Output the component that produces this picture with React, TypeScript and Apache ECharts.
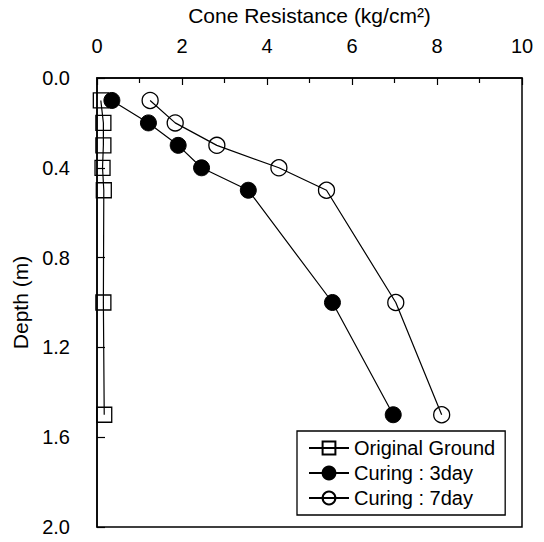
import React, { useEffect, useRef } from "react";
import * as echarts from "echarts";

const depths = [0.1, 0.2, 0.3, 0.4, 0.5, 1.0, 1.5];
const originalGround = [0.09, 0.15, 0.15, 0.13, 0.16, 0.15, 0.17];
const curing3day = [0.35, 1.21, 1.91, 2.46, 3.56, 5.54, 6.97];
const curing7day = [1.25, 1.84, 2.82, 4.28, 5.4, 7.03, 8.11];

const seriesNames = ["Original Ground", "Curing : 3day", "Curing : 7day"];
const xTitle = "Cone Resistance (kg/cm²)";
const yTitle = "Depth (m)";

const FONT = "Liberation Sans, Arial, sans-serif";

function pairs(xs: number[]) {
  return xs.map((x, i) => [x, depths[i]]);
}

export default function App() {
  const ref = useRef<HTMLDivElement>(null);
  useEffect(() => {
    if (!ref.current) return;
    const chart = echarts.init(ref.current, undefined, { renderer: "svg" });
    const lineStyle = { color: "#000", width: 1.2 };
    chart.setOption({
      animation: false,
      backgroundColor: "#fff",
      textStyle: { fontFamily: FONT, color: "#000" },
      grid: {
        left: 97,
        right: 22,
        top: 72,
        bottom: 15,
        show: true,
        borderColor: "#000",
        borderWidth: 1.5,
        backgroundColor: "transparent",
      },
      legend: {
        orient: "vertical",
        left: 297,
        top: 431,
        width: 211,
        padding: [7, 10, 7, 11],
        itemGap: 5,
        itemWidth: 40,
        itemHeight: 16,
        borderColor: "#000",
        borderWidth: 1.3,
        backgroundColor: "#fff",
        textStyle: { fontFamily: FONT, fontSize: 20, color: "#000" },
        data: seriesNames,
      },
      xAxis: {
        type: "value",
        position: "top",
        min: 0,
        max: 10,
        interval: 2,
        name: xTitle,
        nameLocation: "middle",
        nameGap: 52,
        nameTextStyle: { fontFamily: FONT, fontSize: 21, color: "#000" },
        axisLine: { show: true, lineStyle: { color: "#000", width: 1.5 } },
        axisTick: { show: true, inside: true, length: 7, lineStyle: { color: "#000", width: 1.2 } },
        minorTick: { show: true, splitNumber: 2, length: 5, lineStyle: { color: "#000", width: 1.2 } },
        axisLabel: { fontFamily: FONT, fontSize: 20, color: "#000", margin: 22 },
        splitLine: { show: false },
      },
      yAxis: {
        type: "value",
        inverse: true,
        min: 0,
        max: 2.0,
        interval: 0.4,
        name: yTitle,
        nameLocation: "middle",
        nameGap: 62,
        nameRotate: 90,
        nameTextStyle: { fontFamily: FONT, fontSize: 21, color: "#000" },
        axisLine: { show: true, lineStyle: { color: "#000", width: 1.5 } },
        axisTick: { show: true, inside: true, length: 8, lineStyle: { color: "#000", width: 1.2 } },
        axisLabel: {
          fontFamily: FONT,
          fontSize: 20,
          color: "#000",
          margin: 27,
          formatter: (v: number) => v.toFixed(1),
        },
        splitLine: { show: false },
      },
      series: [
        {
          name: seriesNames[0],
          type: "line",
          data: pairs(originalGround),
          symbol: "rect",
          symbolSize: 15,
          showAllSymbol: true,
          lineStyle,
          itemStyle: { color: "rgba(255,255,255,0)", borderColor: "#000", borderWidth: 1.3 },
          z: 2,
        },
        {
          name: seriesNames[1],
          type: "line",
          data: pairs(curing3day),
          symbol: "circle",
          symbolSize: 16,
          showAllSymbol: true,
          lineStyle,
          itemStyle: { color: "#000", borderColor: "#000", borderWidth: 1 },
          z: 3,
        },
        {
          name: seriesNames[2],
          type: "line",
          data: pairs(curing7day),
          symbol: "circle",
          symbolSize: 16,
          showAllSymbol: true,
          lineStyle,
          itemStyle: { color: "rgba(255,255,255,0)", borderColor: "#000", borderWidth: 1.3 },
          z: 4,
        },
      ],
    });
    return () => chart.dispose();
  }, []);
  return (
    <div
      ref={ref}
      style={{ position: "fixed", left: 0, top: 0, width: 544, height: 542, background: "#fff" }}
    />
  );
}
